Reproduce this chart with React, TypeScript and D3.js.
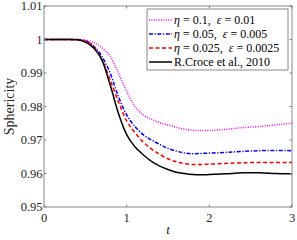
import * as d3 from "d3";

// time samples and sphericity per run
const tValues = [0, 0.3, 0.4, 0.5, 0.6, 0.7, 0.8, 0.9, 1.0, 1.1, 1.2, 1.3, 1.4, 1.5, 1.6, 1.7, 1.8, 1.9, 2.0, 2.2, 2.4, 2.6, 2.8, 3.0];
const magentaValues = [1, 1, 1, 0.9998, 0.9992, 0.9975, 0.995, 0.99, 0.9845, 0.98, 0.9775, 0.9762, 0.9752, 0.9745, 0.9738, 0.9732, 0.9729, 0.9728, 0.9728, 0.9732, 0.9737, 0.974, 0.9745, 0.975];
const blueValues = [1, 1, 1, 0.9996, 0.998, 0.995, 0.99, 0.983, 0.9775, 0.974, 0.9716, 0.97, 0.9687, 0.9675, 0.9667, 0.9661, 0.9659, 0.966, 0.9661, 0.9663, 0.9666, 0.9668, 0.9669, 0.9668];
const redValues = [1, 1, 1, 0.9995, 0.998, 0.994, 0.988, 0.9814, 0.9757, 0.9722, 0.9694, 0.9673, 0.9657, 0.9644, 0.9635, 0.963, 0.9627, 0.9627, 0.9628, 0.963, 0.9632, 0.9633, 0.9633, 0.9633];
const blackValues = [1, 1, 0.9999, 0.9992, 0.9975, 0.994, 0.9865, 0.978, 0.9716, 0.968, 0.9656, 0.9636, 0.9622, 0.9612, 0.9604, 0.96, 0.9597, 0.9596, 0.9597, 0.9599, 0.9602, 0.9602, 0.96, 0.9599];

const xTicks = [0, 1, 2, 3];
const yTicks = [0.95, 0.96, 0.97, 0.98, 0.99, 1, 1.01];
const yTickLabels = ["0.95", "0.96", "0.97", "0.98", "0.99", "1", "1.01"];

const series = [
  { name: ["η", " = 0.1,  ", "ε", " = 0.01"], values: magentaValues, color: "#ff00ff", dash: "1,1.4" },
  { name: ["η", " = 0.05,  ", "ε", " = 0.005"], values: blueValues, color: "#0000ff", dash: "4,1.6,1.2,1.6" },
  { name: ["η", " = 0.025,  ", "ε", " = 0.0025"], values: redValues, color: "#ff0000", dash: "4,2.5" },
  { name: ["R.Croce et al., 2010"], values: blackValues, color: "#000000", dash: null },
];

const width = 297;
const height = 240;
const margin = { top: 6, right: 5, bottom: 33, left: 44 };

export default function App() {
  const x = d3.scaleLinear().domain([0, 3]).range([margin.left, width - margin.right]);
  const y = d3.scaleLinear().domain([0.95, 1.01]).range([height - margin.bottom, margin.top]);

  const line = d3
    .line<number>()
    .x((_, i) => x(tValues[i]))
    .y((d) => y(d))
    .curve(d3.curveMonotoneX);

  const axisColor = "#6b6b6b";
  const font = "'Liberation Serif', 'DejaVu Serif', serif";
  const x0 = x(0), x1 = x(3), y0 = y(0.95), y1 = y(1.01);

  // legend placement
  const lg = { x: 147, y: 9, w: 141, h: 61, row: 14 };

  return (
    <svg width={width} height={height} style={{ position: "absolute", left: 0, top: 0, background: "#fff" }} fontFamily={font}>
      <rect x={x0} y={y1} width={x1 - x0} height={y0 - y1} fill="#fff" />

      {/* curves */}
      {series.map((s, i) => (
        <path
          key={i}
          d={line(s.values) || ""}
          fill="none"
          stroke={s.color}
          strokeWidth={1.5}
          strokeDasharray={s.dash || undefined}
        />
      ))}

      {/* box and ticks */}
      <rect x={x0} y={y1} width={x1 - x0} height={y0 - y1} fill="none" stroke={axisColor} strokeWidth={0.8} />
      {xTicks.map((t) => (
        <g key={"x" + t}>
          <line x1={x(t)} x2={x(t)} y1={y0} y2={y0 - 2.5} stroke={axisColor} strokeWidth={0.8} />
          <line x1={x(t)} x2={x(t)} y1={y1} y2={y1 + 2.5} stroke={axisColor} strokeWidth={0.8} />
          <text x={x(t)} y={y0 + 15} textAnchor="middle" fontSize={12.5} fill="#262626">{t}</text>
        </g>
      ))}
      {yTicks.map((v, i) => (
        <g key={"y" + v}>
          <line x1={x0} x2={x0 + 2.5} y1={y(v)} y2={y(v)} stroke={axisColor} strokeWidth={0.8} />
          <line x1={x1} x2={x1 - 2.5} y1={y(v)} y2={y(v)} stroke={axisColor} strokeWidth={0.8} />
          <text x={x0 - 1.5} y={y(v) + 4.3} textAnchor="end" fontSize={12.5} fill="#262626">{yTickLabels[i]}</text>
        </g>
      ))}

      {/* axis labels */}
      <text x={(x0 + x1) / 2} y={y0 + 27} textAnchor="middle" fontSize={13} fontStyle="italic" fill="#262626">t</text>
      <text transform={`translate(14,${(y0 + y1) / 2}) rotate(-90)`} textAnchor="middle" fontSize={14} fill="#262626">Sphericity</text>

      {/* legend */}
      <rect x={lg.x} y={lg.y} width={lg.w} height={lg.h} fill="#fff" stroke={axisColor} strokeWidth={0.8} />
      {series.map((s, i) => {
        const cy = lg.y + 11 + i * lg.row;
        return (
          <g key={"l" + i}>
            <line x1={lg.x + 2} x2={lg.x + 25} y1={cy} y2={cy} stroke={s.color} strokeWidth={1.5} strokeDasharray={s.dash || undefined} />
            <text x={lg.x + 27} y={cy + 4} fontSize={12} fill="#000" xmlSpace="preserve">
              {s.name.map((part, j) => (
                <tspan key={j} fontStyle={part === "η" || part === "ε" ? "italic" : undefined}>{part}</tspan>
              ))}
            </text>
          </g>
        );
      })}
    </svg>
  );
}
